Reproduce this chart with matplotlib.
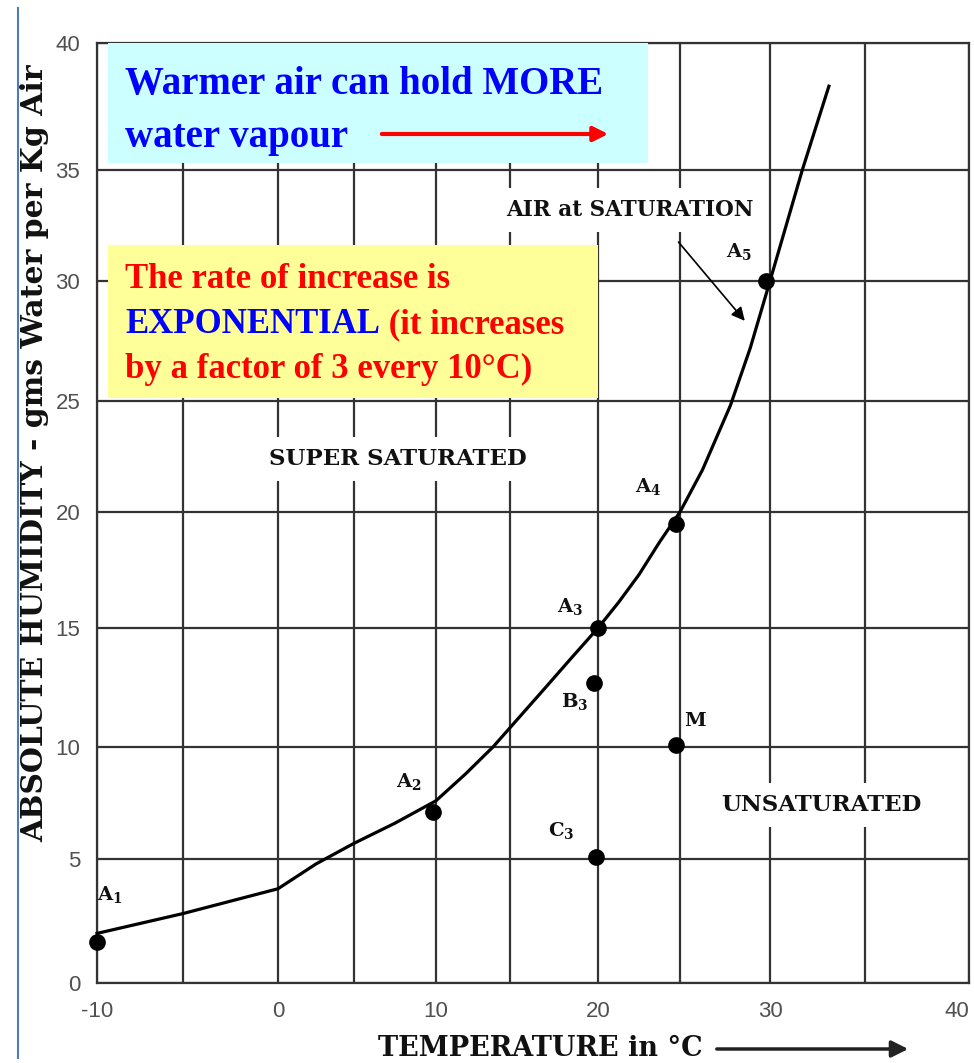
import numpy as np
import matplotlib
matplotlib.use('Agg')
import matplotlib.pyplot as plt
from matplotlib.patches import Rectangle
from matplotlib.lines import Line2D

####
# Data
#===
sat_temp = [-10, -5, 0, 2.5, 5, 7.5, 10, 12, 13.85, 16.9, 18.5, 20, 21.25, 22.5,
            23.75, 25, 26.25, 27.8, 28.9, 30, 31.7, 33.1]
sat_hum = [2.0, 2.8, 3.8, 4.8, 5.7, 6.6, 7.6, 8.8, 10.0, 12.4, 13.75, 15.0, 16.1, 17.3,
           18.7, 20.0, 21.9, 24.8, 27.2, 30.0, 35.0, 38.3]

pt_names = ['A_1', 'A_2', 'A_3', 'A_4', 'A_5', 'B_3', 'C_3', 'M']
pt_temp = [-10, 9.8, 20, 24.75, 29.8, 19.8, 19.9, 24.75]
pt_hum = [1.65, 7.1, 15.0, 19.5, 30.0, 12.7, 5.1, 10.1]

x_grid = [-10, -5, 0, 5, 10, 15, 20, 25, 30, 35, 40]
x_ticklabels = ['-10', '', '0', '', '10', '', '20', '', '30', '', '40']
y_grid = [0, 5, 10, 15, 20, 25, 30, 35, 40]

# the printed grid is hand drawn and a bit uneven: pixel position of each grid line
x_pix = [97, 183, 278, 354, 436, 510, 598, 680, 770, 865, 969]
y_pix = [0, 124, 236, 355, 471, 582, 702, 813, 940]

W, H = 974, 1063
def fx(p):
    return p / W
def fy(p):
    return 1 - p / H

plt.rcParams['mathtext.fontset'] = 'dejavuserif'
slab = 'DejaVu Serif'
times = 'Liberation Serif'
ink = '#333333'

fig = plt.figure(figsize=(9.74, 10.63), dpi=100)
ax = fig.add_axes([fx(97), fy(983), (969 - 97) / W, (983 - 43) / H])

ax.set_xscale('function', functions=(lambda v: np.interp(v, x_grid, x_pix),
                                     lambda p: np.interp(p, x_pix, x_grid)))
ax.set_yscale('function', functions=(lambda v: np.interp(v, y_grid, y_pix),
                                     lambda p: np.interp(p, y_pix, y_grid)))
ax.set_xlim(-10, 40)
ax.set_ylim(0, 40)
ax.set_xticks(x_grid)
ax.set_xticklabels(x_ticklabels)
ax.set_yticks(y_grid)
ax.set_yticklabels([str(v) for v in y_grid])
ax.tick_params(length=0, labelsize=16, labelcolor='#505050')
ax.tick_params(axis='x', pad=13)
ax.tick_params(axis='y', pad=12)
for lab in ax.get_xticklabels() + ax.get_yticklabels():
    lab.set_family('Liberation Sans')
ax.get_xticklabels()[-1].set_horizontalalignment('right')
ax.grid(True, color=ink, lw=1.6)
ax.set_axisbelow(True)
for s in ax.spines.values():
    s.set_color(ink)
    s.set_linewidth(1.6)

####
# Curve and points
#===
ax.plot(sat_temp, sat_hum, color='black', lw=2.3, zorder=3, clip_on=False)
ax.plot(pt_temp, pt_hum, 'o', color='black', ms=11, zorder=4, clip_on=False)

offs = {'A_1': (0, 37), 'A_2': (-37, 20), 'A_3': (-41, 11), 'A_4': (-41, 27),
        'A_5': (-40, 19), 'B_3': (-33, -29), 'C_3': (-48, 16), 'M': (8, 15)}
for n, t, h in zip(pt_names, pt_temp, pt_hum):
    ax.annotate(r'$\mathbf{%s}$' % n, (t, h), xytext=offs[n], textcoords='offset pixels',
                ha='left', va='bottom', fontsize=14, color='#111111', zorder=5,
                annotation_clip=False)

lab_kw = dict(family=slab, weight='bold', color='#111111', ha='center', va='center', zorder=5,
              bbox=dict(facecolor='white', edgecolor='none', pad=8))
ax.text(7.7, 22.4, 'SUPER SATURATED', fontsize=16.5, **lab_kw)
ax.text(32.7, 7.4, 'UNSATURATED', fontsize=16.5, **lab_kw)
ax.text(21.95, 33.2, 'AIR at SATURATION', fontsize=15.5, **lab_kw)
ax.annotate('', xy=(28.7, 28.25), xytext=(24.8, 31.85),
            arrowprops=dict(arrowstyle='-|>', color='black', lw=1.2, mutation_scale=20),
            zorder=5)

####
# Coloured boxes
#===
ax.add_patch(Rectangle((fx(108), fy(163)), (648 - 108) / W, (163 - 43) / H,
                       transform=fig.transFigure, facecolor='#CCFFFF', edgecolor='none',
                       zorder=6, clip_on=False))
ax.add_patch(Rectangle((fx(108), fy(398)), (598 - 108) / W, (398 - 245) / H,
                       transform=fig.transFigure, facecolor='#FFFF99', edgecolor='none',
                       zorder=6, clip_on=False))

box_kw = dict(family=times, weight='bold', transform=fig.transFigure, ha='left',
              va='baseline', zorder=7, clip_on=False)
ax.text(fx(125), fy(94), 'Warmer air can hold MORE', fontsize=28, color='#0000FF', **box_kw)
ax.text(fx(125), fy(147), 'water vapour', fontsize=28, color='#0000FF', **box_kw)
ax.annotate('', xy=(fx(611), fy(134)), xytext=(fx(379), fy(134)), xycoords='figure fraction',
            arrowprops=dict(arrowstyle='-|>', color='#FF0000', lw=3, mutation_scale=22),
            zorder=7, annotation_clip=False)

ax.text(fx(125), fy(288), 'The rate of increase is', fontsize=25, color='#FF0000', **box_kw)
t1 = ax.text(fx(125), fy(333), 'EXPONENTIAL', fontsize=25, color='#0000FF', **box_kw)
ax.annotate(' (it increases', xy=(1, 0), xycoords=t1, ha='left', va='bottom',
            family=times, weight='bold', fontsize=25, color='#FF0000', zorder=7,
            annotation_clip=False)
ax.text(fx(125), fy(378), 'by a factor of 3 every 10°C)', fontsize=25, color='#FF0000', **box_kw)

####
# Axis titles
#===
fig.text(fx(35), fy(453), 'ABSOLUTE HUMIDITY - gms Water per Kg Air', rotation=90,
         family=slab, weight='bold', fontsize=21.5, color='#111111', ha='center', va='center')
fig.text(fx(378), fy(1056), 'TEMPERATURE in °C', family=slab, weight='bold', fontsize=19.5,
         color='#111111', ha='left', va='baseline')
fig.add_artist(plt.Annotation('', xy=(fx(911), fy(1049)), xytext=(fx(714), fy(1049)),
                              xycoords='figure fraction',
                              arrowprops=dict(arrowstyle='-|>', color='#222222', lw=2.5,
                                              mutation_scale=25)))

# slide frame on the left
fig.add_artist(Line2D([fx(18), fx(18)], [fy(8), fy(1058)], color='#4a7ebb', lw=1.5))

fig.savefig('out.png', dpi=100, facecolor='white')
